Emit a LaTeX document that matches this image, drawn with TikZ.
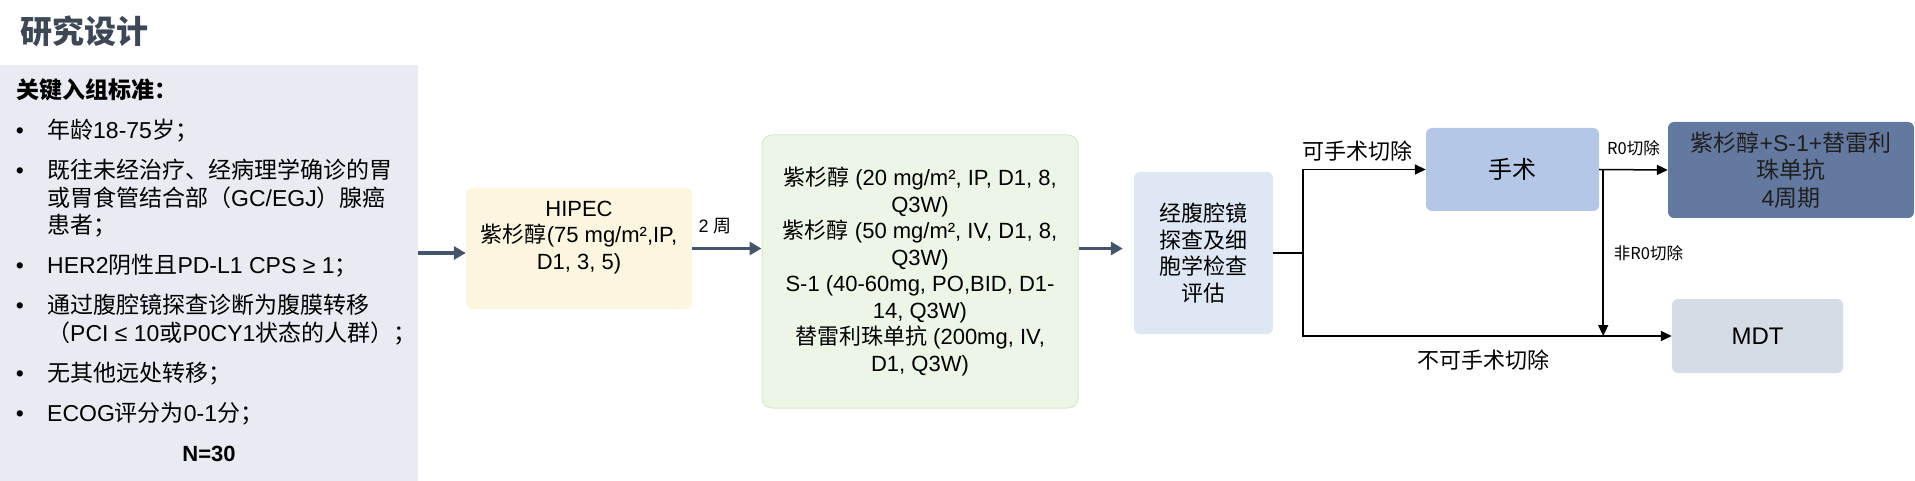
\documentclass[tikz,border=0pt]{standalone}
\usepackage{fontspec}
\setmainfont{Liberation Sans}
\newfontfamily\zhfont{Noto Sans CJK SC}
\newcommand\zh[1]{{\zhfont #1}}
\usetikzlibrary{arrows.meta,positioning}

\definecolor{titlegray}{HTML}{3D4756}
\definecolor{panelblue}{HTML}{E8EBF2}
\definecolor{slate}{HTML}{44546A}
\definecolor{hipecyellow}{HTML}{FCF5DF}
\definecolor{chemogreen}{HTML}{EDF5E6}
\definecolor{chemoline}{HTML}{D9EACC}
\definecolor{evalblue}{HTML}{DEE8F4}
\definecolor{surgblue}{HTML}{B4C7E7}
\definecolor{adjblue}{HTML}{6479A0}
\definecolor{mdtgray}{HTML}{D6DCE5}

\tikzset{
  box/.style={rounded corners=6pt, inner sep=0pt, align=center, font=\fontsize{22}{26.5}\selectfont},
  flow/.style={draw=slate, line width=3.5pt, -{Triangle[length=12pt,width=13pt]}},
  link/.style={draw=black, line width=1.5pt, -{Triangle[length=11pt,width=10pt]}},
  item/.style={anchor=base west, inner sep=0pt, font=\fontsize{23}{27.5}\selectfont},
  tag/.style={inner sep=0pt, font=\fontsize{22}{26}\selectfont},
  smalltag/.style={inner sep=0pt, font=\fontsize{16.5}{20}\selectfont\zhfont},
}

\begin{document}
\begin{tikzpicture}[x=1pt,y=-1pt]
\useasboundingbox (0,0) rectangle (1915,481);

% heading
\node[anchor=base west, inner sep=0pt, text=titlegray,
  font=\fontsize{32}{36}\selectfont\bfseries] (title) at (20,44) {\zh{研究设计}};

% inclusion criteria
\node[fill=panelblue, anchor=north west, inner sep=0pt,
  minimum width=418pt, minimum height=416pt] (criteria) at (0,65) {};
\node[item, font=\fontsize{23}{27.5}\selectfont\bfseries] (head) at (16,98.5) {\zh{关键入组标准：}};
\foreach \y/\txt [count=\i] in {
    138.5/{\zh{年龄}18-75\zh{岁；}},
    178.5/{\zh{既往未经治疗、经病理学确诊的胃}},
    206.8/{\zh{或胃食管结合部（}GC/EGJ\zh{）腺癌}},
    233.5/{\zh{患者；}},
    273.5/{HER2\zh{阴性且}PD-L1 CPS ≥ 1\zh{；}},
    313.5/{\zh{通过腹腔镜探查诊断为腹膜转移}},
    341.5/{\zh{（}PCI ≤ 10\zh{或}P0CY1\zh{状态的人群）；}},
    381.5/{\zh{无其他远处转移；}},
    421.5/{ECOG\zh{评分为}0-1\zh{分；}}}
  \node[item] (line-\i) at (47,\y) {\txt};
\foreach \y [count=\k] in {138.5,178.5,273.5,313.5,381.5,421.5}
  \node[item, anchor=base] (dot-\k) at (20,\y) {•};
\node[item, anchor=base, font=\fontsize{22}{26}\selectfont\bfseries] (total) at (209,461) {N=30};

% treatment steps
\node[box, fill=hipecyellow, minimum width=226pt, minimum height=121pt] (hipec) at (579,248.5)
  {HIPEC\\\zh{紫杉醇}(75 mg/m²,IP,\\D1, 3, 5)\\\mbox{}};
\node[box, fill=chemogreen, draw=chemoline, line width=1pt, rounded corners=10pt,
  minimum width=316pt, minimum height=273pt] (chemo) at (920,271.5)
  {\zh{紫杉醇} (20 mg/m², IP, D1, 8,\\Q3W)\\\zh{紫杉醇} (50 mg/m², IV, D1, 8,\\Q3W)\\
   S-1 (40-60mg, PO,BID, D1-\\14, Q3W)\\\zh{替雷利珠单抗} (200mg, IV,\\D1, Q3W)};
\node[box, fill=evalblue, minimum width=139pt, minimum height=162pt] (lap) at (1203.5,253)
  {\zh{经腹腔镜}\\\zh{探查及细}\\\zh{胞学检查}\\\zh{评估}};
\node[box, fill=surgblue, minimum width=173pt, minimum height=83pt,
  font=\fontsize{24}{28}\selectfont] (surgery) at (1512.5,169.5) {\zh{手术}};
\node[box, fill=adjblue, text=black!88, minimum width=246pt, minimum height=96pt,
  font=\fontsize{23}{27.5}\selectfont] (adjuvant) at (1791,170)
  {\zh{紫杉醇}+S-1+\zh{替雷利}\\\zh{珠单抗}\\4\zh{周期}};
\node[box, fill=mdtgray, minimum width=171pt, minimum height=74pt,
  font=\fontsize{24}{28}\selectfont] (mdt) at (1757.5,336) {MDT};

% main flow
\draw[flow] (criteria.east |- lap.west) -- (hipec.west |- lap.west);
\draw[flow] (hipec.east) -- (hipec.east -| chemo.west)
  node[tag, pos=0.33, above=13pt, font=\fontsize{18}{20}\selectfont] (interval) {2 \zh{周}};
\draw[flow, shorten >=11pt] (chemo.east |- hipec.east) -- (lap.west |- hipec.east);

% branches after assessment
\coordinate (split) at (1303,253);
\draw[link] (lap.east) -- (split) |- node[tag, pos=0.72, above=7pt] (resectable) {\zh{可手术切除}} (surgery.west);
\draw[link] (split) |- node[tag, pos=0.745, below=13pt] (unresectable) {\zh{不可手术切除}} (mdt.west);
\draw[link] (surgery.east) -- (adjuvant.west) node[smalltag, midway, above=13pt] (r0) {R0切除};
\coordinate (cut) at ([xshift=4pt]surgery.east);
\draw[link] (cut) -- (cut |- mdt.west) node[smalltag, midway, right=10pt] (nonr0) {非R0切除};
\end{tikzpicture}
\end{document}
